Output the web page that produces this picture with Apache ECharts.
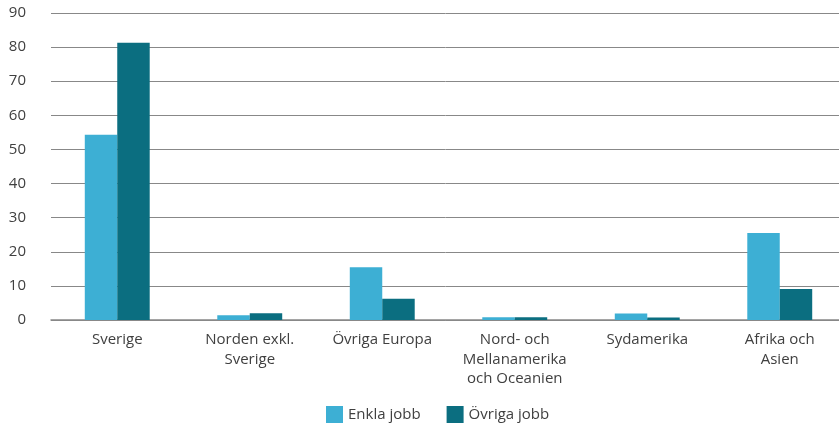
<!DOCTYPE html>
<html>
<head>
<meta charset="utf-8" />
<style>
  html, body { margin: 0; padding: 0; background: #fff; }
  #chart { width: 839px; height: 425px; }
</style>
<script src="https://cdn.jsdelivr.net/npm/echarts@6/dist/echarts.min.js"></script>
</head>
<body>
<div id="chart"></div>
<script>
var categories = ['Sverige', 'Norden exkl.\nSverige', 'Övriga Europa', 'Nord- och\nMellanamerika\noch Oceanien', 'Sydamerika', 'Afrika och\nAsien'];
var enklaJobb = [54.3, 1.4, 15.5, 0.8, 1.9, 25.5];
var ovrigaJobb = [81.3, 2.0, 6.2, 0.8, 0.7, 9.1];
var seriesNames = ['Enkla jobb', 'Övriga jobb'];

var chart = echarts.init(document.getElementById('chart'));
chart.setOption({
  animation: false,
  textStyle: { fontFamily: 'Open Sans', color: '#404040' },
  grid: { left: 51, width: 795, top: 13, bottom: 105, outerBoundsMode: 'none', containLabel: false },
  legend: {
    bottom: 2,
    left: 326,
    padding: 0,
    icon: 'rect',
    itemWidth: 17,
    itemHeight: 17,
    itemGap: 26,
    textStyle: { fontSize: 15, color: '#404040' },
    data: seriesNames
  },
  xAxis: {
    type: 'category',
    data: categories,
    axisTick: { show: false },
    axisLine: { lineStyle: { color: '#888', width: 1.5 } },
    axisLabel: { fontSize: 15, color: '#404040', lineHeight: 19.5, margin: 10, interval: 0 }
  },
  yAxis: {
    type: 'value',
    min: 0,
    max: 90,
    interval: 10,
    axisLabel: { fontSize: 15, color: '#404040', margin: 25 },
    splitLine: { lineStyle: { color: '#888', width: 1 } }
  },
  series: [
    {
      name: seriesNames[0], type: 'bar', data: enklaJobb,
      barGap: '0%', barCategoryGap: '51%',
      itemStyle: { color: '#3dafd4' }
    },
    {
      name: seriesNames[1], type: 'bar', data: ovrigaJobb,
      itemStyle: { color: '#0b6e80' }
    }
  ]
});
</script>
</body>
</html>
